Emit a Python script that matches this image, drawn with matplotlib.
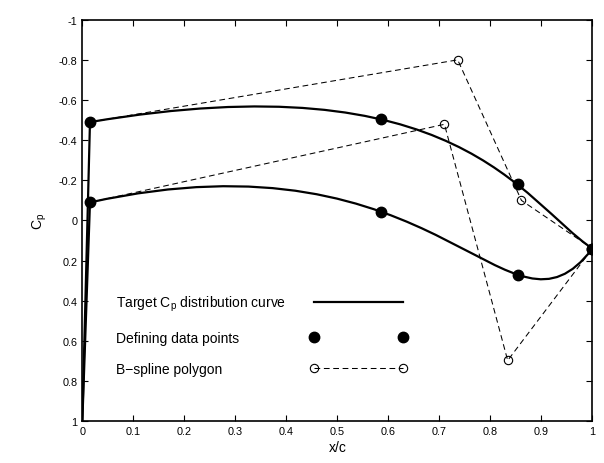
# Target Cp distribution: upper / lower surface curves with their B-spline polygons

import numpy as np
import matplotlib
matplotlib.use("Agg")
import matplotlib.pyplot as plt
from matplotlib.path import Path
from matplotlib.patches import PathPatch
from matplotlib.lines import Line2D

plt.rcParams['font.family'] = ['Liberation Sans', 'DejaVu Sans']
plt.rcParams['mathtext.fontset'] = 'custom'
plt.rcParams['mathtext.rm'] = 'Liberation Sans'
plt.rcParams['mathtext.it'] = 'Liberation Sans'
plt.rcParams['mathtext.default'] = 'regular'
plt.rcParams['axes.unicode_minus'] = False

# stagnation point at the leading edge
stag_x = 0.0
stag_cp = 1.0

# defining data points (x/c, Cp)
upper_x = [0.015, 0.585, 0.855, 1.0]
upper_cp = [-0.49, -0.505, -0.18, 0.14]
lower_x = [0.015, 0.585, 0.855, 1.0]
lower_cp = [-0.09, -0.042, 0.27, 0.14]

# B-spline control polygons
upper_poly_x = [0.015, 0.736, 0.861, 1.0]
upper_poly_cp = [-0.49, -0.80, -0.10, 0.14]
lower_poly_x = [0.015, 0.710, 0.834, 1.0]
lower_poly_cp = [-0.09, -0.479, 0.697, 0.14]

xticks = [0, 0.1, 0.2, 0.3, 0.4, 0.5, 0.6, 0.7, 0.8, 0.9, 1]
xtick_labels = ['0', '0.1', '0.2', '0.3', '0.4', '0.5', '0.6', '0.7', '0.8', '0.9', '1']
yticks = [-1, -0.8, -0.6, -0.4, -0.2, 0, 0.2, 0.4, 0.6, 0.8, 1]
ytick_labels = ['-1', '-0.8', '-0.6', '-0.4', '-0.2', '0', '0.2', '0.4', '0.6', '0.8', '1']

legend_labels = [r'Target C$_p$ distribution curve', 'Defining data points', 'B\u2212spline polygon']

fig = plt.figure(figsize=(6.04, 4.64), dpi=100)
ax = fig.add_axes([0.1363, 0.0899, 0.8444, 0.8655])

dash = (0, (5.5, 3.5))

for px, pcp, dx, dcp in [(upper_poly_x, upper_poly_cp, upper_x, upper_cp),
                         (lower_poly_x, lower_poly_cp, lower_x, lower_cp)]:
    # curve = cubic B-spline (Bezier) of the control polygon
    path = Path(list(zip(px, pcp)), [Path.MOVETO, Path.CURVE4, Path.CURVE4, Path.CURVE4])
    ax.add_patch(PathPatch(path, facecolor='none', edgecolor='k', lw=1.6, zorder=3))
    # leading edge segment from stagnation point
    ax.plot([stag_x, dx[0]], [stag_cp, dcp[0]], color='k', lw=1.6, zorder=3)
    # control polygon
    ax.plot(px, pcp, color='k', lw=0.75, linestyle=dash, marker='o', markersize=6,
            markerfacecolor='none', markeredgecolor='k', markeredgewidth=0.8, zorder=2)
    # defining data points
    ax.plot(dx, dcp, linestyle='none', marker='o', markersize=7.5, color='k', zorder=4)

ax.set_xlim(0, 1)
ax.set_ylim(1, -1)
ax.set_xticks(xticks)
ax.set_xticklabels(xtick_labels)
ax.set_yticks(yticks)
ax.set_yticklabels(ytick_labels)
ax.tick_params(direction='in', length=4, width=0.8, top=True, right=True,
               labelsize=7.8, pad=3.5)
for s in ax.spines.values():
    s.set_linewidth(1.2)

ax.set_xlabel('x/c', fontsize=10, labelpad=3)
ax.set_ylabel(r'C$_p$', fontsize=10, labelpad=7)

# legend: samples column (labels hidden) and text column, rows share heights
handles = [
    Line2D([], [], color='k', lw=1.6),
    Line2D([], [], linestyle='none', marker='o', markersize=7.5, color='k'),
    Line2D([], [], color='k', lw=0.75, linestyle=dash, marker='o', markersize=6,
           markerfacecolor='none', markeredgecolor='k', markeredgewidth=0.8),
]
leg_kw = dict(loc='center left', frameon=False, fontsize=10, numpoints=2,
              labelspacing=1.25, borderpad=0, borderaxespad=0)
leg_handles = ax.legend(handles, legend_labels, bbox_to_anchor=(0.447, 0.215),
                        handlelength=7.0, handletextpad=0, labelcolor='none', **leg_kw)
ax.add_artist(leg_handles)

blank = [Line2D([], [], alpha=0) for _ in legend_labels]
ax.legend(blank, legend_labels, bbox_to_anchor=(0.067, 0.215),
          handlelength=0, handletextpad=0, **leg_kw)

fig.savefig('out.png', dpi=100)
